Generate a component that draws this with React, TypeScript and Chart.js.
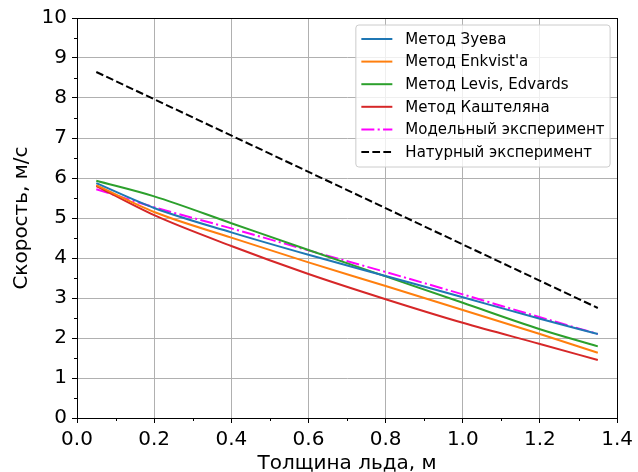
import React, { useEffect, useRef } from 'react';
import { Chart, registerables } from 'chart.js';

Chart.register(...registerables);

// ---- data ----
const xValues = [0.05, 0.2, 0.4, 0.6, 0.8, 1.0, 1.2, 1.35];
const zuev = [5.87, 5.25, 4.64, 4.08, 3.55, 3.02, 2.48, 2.1];
const enkvist = [5.82, 5.15, 4.51, 3.89, 3.3, 2.7, 2.1, 1.63];
const levis = [5.93, 5.54, 4.87, 4.2, 3.54, 2.88, 2.22, 1.79];
const kashtelyan = [5.8, 5.07, 4.3, 3.6, 2.97, 2.38, 1.85, 1.45];
const model = [5.72, 5.27, 4.74, 4.19, 3.65, 3.09, 2.52, 2.1];
const naturalX = [0.05, 1.35];
const natural = [8.65, 2.75];

const seriesLabels = [
  'Метод Зуева',
  "Метод Enkvist'a",
  'Метод Levis, Edvards',
  'Метод Каштеляна',
  'Модельный эксперимент',
  'Натурный эксперимент',
];
const xTitle = 'Толщина льда, м';
const yTitle = 'Скорость, м/с';
const xMin = 0;
const xMax = 1.4;
const xStep = 0.2;
const yMin = 0;
const yMax = 10;
const yStep = 1;

const FONT = "'DejaVu Sans', sans-serif";

const toPoints = (xs: number[], ys: number[]) => xs.map((x, i) => ({ x, y: ys[i] }));

const frameAndLegend = {
  id: 'frameAndLegend',
  afterDraw(chart: any) {
    const ctx = chart.ctx as CanvasRenderingContext2D;
    const ca = chart.chartArea;
    const xs = chart.scales.x;
    const ys = chart.scales.y;
    ctx.save();
    // minor ticks
    ctx.strokeStyle = '#000';
    ctx.lineWidth = 1;
    ctx.beginPath();
    for (let v = yMin + yStep / 2; v < yMax; v += yStep) {
      const py = Math.round(ys.getPixelForValue(v)) + 0.5;
      ctx.moveTo(ca.left - 3, py);
      ctx.lineTo(ca.left, py);
    }
    for (let v = xMin + xStep / 2; v < xMax; v += xStep) {
      const px = Math.round(xs.getPixelForValue(v)) + 0.5;
      ctx.moveTo(px, ca.bottom);
      ctx.lineTo(px, ca.bottom + 3);
    }
    ctx.stroke();
    // spines
    ctx.strokeRect(Math.round(ca.left) + 0.5, Math.round(ca.top) + 0.5, Math.round(ca.right - ca.left), Math.round(ca.bottom - ca.top));

    // legend
    const fs = 15;
    ctx.font = `${fs}px ${FONT}`;
    const ds = chart.data.datasets;
    let maxW = 0;
    ds.forEach((d: any) => { maxW = Math.max(maxW, ctx.measureText(d.label).width); });
    const pad = 5.5;
    const handle = 31;
    const gap = 13;
    const rowH = 22.6;
    const w = pad + handle + gap + maxW + pad;
    const h = 142;
    const right = ca.right - 7;
    const left = right - w;
    const top = ca.top + 7;
    const r = 3;
    ctx.beginPath();
    ctx.moveTo(left + r, top);
    ctx.lineTo(left + w - r, top);
    ctx.quadraticCurveTo(left + w, top, left + w, top + r);
    ctx.lineTo(left + w, top + h - r);
    ctx.quadraticCurveTo(left + w, top + h, left + w - r, top + h);
    ctx.lineTo(left + r, top + h);
    ctx.quadraticCurveTo(left, top + h, left, top + h - r);
    ctx.lineTo(left, top + r);
    ctx.quadraticCurveTo(left, top, left + r, top);
    ctx.closePath();
    ctx.fillStyle = 'rgba(255,255,255,0.8)';
    ctx.fill();
    ctx.strokeStyle = '#cccccc';
    ctx.lineWidth = 1;
    ctx.stroke();
    ds.forEach((d: any, i: number) => {
      const cy = top + 14 + i * rowH;
      ctx.beginPath();
      ctx.strokeStyle = d.borderColor;
      ctx.lineWidth = d.borderWidth;
      ctx.setLineDash(d.borderDash || []);
      ctx.moveTo(left + pad, cy);
      ctx.lineTo(left + pad + handle, cy);
      ctx.stroke();
      ctx.setLineDash([]);
      ctx.fillStyle = '#000';
      ctx.textBaseline = 'middle';
      ctx.textAlign = 'left';
      ctx.fillText(d.label, left + pad + handle + gap, cy + 1);
    });
    ctx.restore();
  },
};

export default function App() {
  const ref = useRef<HTMLCanvasElement | null>(null);
  useEffect(() => {
    document.body.style.margin = '0';
    const colors = ['#1f77b4', '#ff7f0e', '#2ca02c', '#d62728', '#ff00ff', '#000000'];
    const series = [zuev, enkvist, levis, kashtelyan, model];
    const datasets: any[] = series.map((s, i) => ({
      label: seriesLabels[i],
      data: toPoints(xValues, s),
      borderColor: colors[i],
      borderWidth: 2,
      pointRadius: 0,
      cubicInterpolationMode: 'monotone',
      borderDash: i === 4 ? [13, 3.3, 2.1, 3.3] : [],
      fill: false,
    }));
    datasets.push({
      label: seriesLabels[5],
      data: toPoints(naturalX, natural),
      borderColor: colors[5],
      borderWidth: 2,
      pointRadius: 0,
      borderDash: [7.7, 3.3],
      fill: false,
    });
    const chart = new Chart(ref.current as HTMLCanvasElement, {
      type: 'line',
      data: { datasets },
      plugins: [frameAndLegend],
      options: {
        animation: false,
        responsive: false,
        devicePixelRatio: 1,
        layout: { padding: { left: 0, top: 18, right: 18, bottom: 0 } },
        plugins: { legend: { display: false }, tooltip: { enabled: false } },
        scales: {
          x: {
            type: 'linear',
            min: xMin,
            max: xMax,
            afterFit: (s: any) => { s.height = 54; },
            ticks: {
              stepSize: xStep,
              autoSkip: false,
              maxRotation: 0,
              padding: 5,
              color: '#000',
              font: { family: FONT, size: 20 },
              callback: (v: any) => Number(v).toFixed(1),
            },
            grid: { color: '#b0b0b0', lineWidth: 1, tickLength: 5, tickColor: '#000' },
            border: { color: '#000', width: 1 },
            title: { display: true, text: xTitle, color: '#000', font: { family: FONT, size: 20 }, padding: { top: 0, bottom: -4 } },
          },
          y: {
            type: 'linear',
            min: yMin,
            max: yMax,
            afterFit: (s: any) => { s.width = 77; },
            ticks: {
              stepSize: yStep,
              autoSkip: false,
              padding: 5,
              color: '#000',
              font: { family: FONT, size: 20 },
              callback: (v: any) => String(v),
            },
            grid: { color: '#b0b0b0', lineWidth: 1, tickLength: 5, tickColor: '#000' },
            border: { color: '#000', width: 1 },
            title: { display: true, text: yTitle, color: '#000', font: { family: FONT, size: 20 }, padding: { top: 10, bottom: 0 } },
          },
        },
      } as any,
    });
    return () => chart.destroy();
  }, []);
  return (
    <div style={{ position: 'absolute', left: 0, top: 0, width: 638, height: 472, background: '#fff' }}>
      <canvas ref={ref} width={638} height={472} style={{ width: 638, height: 472, display: 'block' }} />
    </div>
  );
}
